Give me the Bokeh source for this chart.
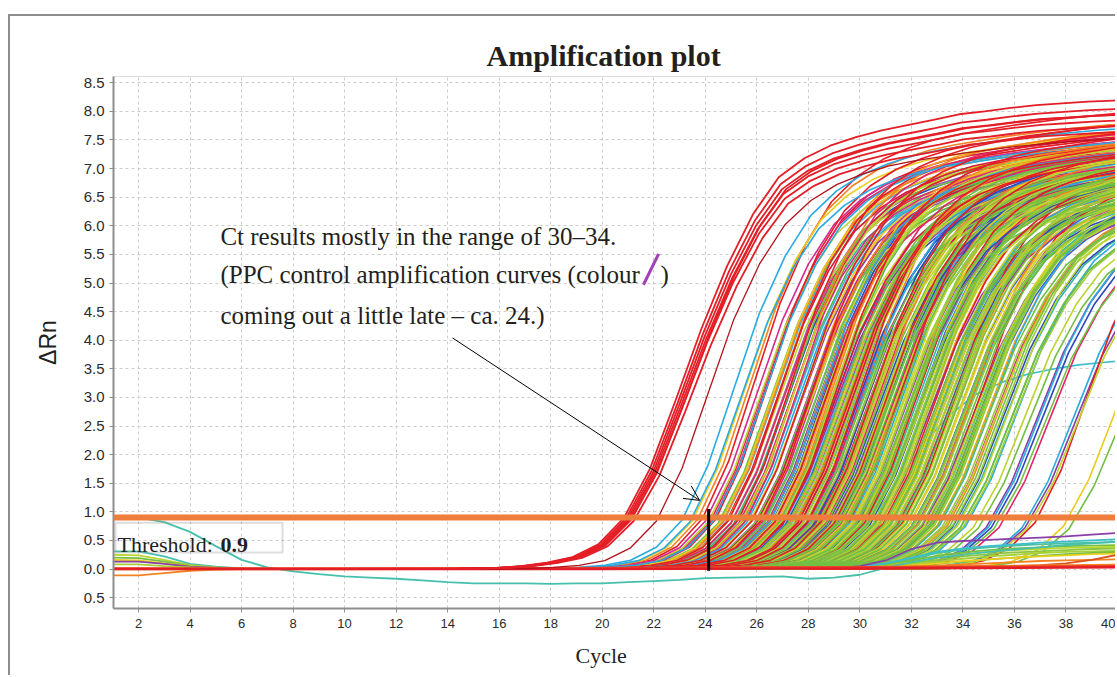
import numpy as np
from bokeh.plotting import figure
from bokeh.models import (Range1d, FixedTicker, Span, Label, BoxAnnotation, Arrow,
                          OpenHead, PrintfTickFormatter, Title)
from bokeh.embed import file_html
from bokeh.resources import INLINE

# ---------------- data ----------------
X_TICKS = [2, 4, 6, 8, 10, 12, 14, 16, 18, 20, 22, 24, 26, 28, 30, 32, 34, 36, 38, 40]
Y_TICKS = [-0.5, 0.0, 0.5, 1.0, 1.5, 2.0, 2.5, 3.0, 3.5, 4.0, 4.5, 5.0, 5.5, 6.0, 6.5, 7.0, 7.5, 8.0, 8.5]
Y_TICK_LABELS = ["0.5", "0.0", "0.5", "1.0", "1.5", "2.0", "2.5", "3.0", "3.5", "4.0", "4.5",
                 "5.0", "5.5", "6.0", "6.5", "7.0", "7.5", "8.0", "8.5"]

THRESHOLD = 0.9
CT_MARK = 24.13

# shape of the PPC control curve (cycles relative to threshold crossing)
PPC_PROFILE_DX = [-40, -7, -6, -5, -4, -3, -2, -1, 0, 1, 2, 3, 4, 5, 6, 7, 8, 9, 10, 11, 12,
                  13, 14, 15, 16, 17, 18, 19, 20]
PPC_PROFILE_Y = [0, 0, 0.01, 0.02, 0.05, 0.11, 0.21, 0.43, 0.9, 1.75, 2.95, 4.2, 5.3, 6.2, 6.85,
                 7.18, 7.4, 7.55, 7.67, 7.76, 7.85, 7.95, 8.0, 8.06, 8.11, 8.14, 8.17, 8.19, 8.2]
# shape of a typical sample curve
MASS_PROFILE_DX = [-40, -6, -5, -4, -3, -2, -1, 0, 1, 2, 3, 4, 5, 6, 7, 8, 9, 10, 12, 14, 16, 18, 20]
MASS_PROFILE_Y = [0, 0, 0.01, 0.03, 0.07, 0.16, 0.4, 0.9, 1.9, 3.3, 4.7, 5.75, 6.5, 6.95, 7.25,
                  7.45, 7.6, 7.7, 7.85, 7.97, 8.06, 8.12, 8.16]
PROFILE_TOP = 8.2

# PPC controls (red)
CT_PPC = [20.85, 20.92, 20.98, 21.03, 21.08, 21.14, 21.22]
PLAT_PPC = [8.2, 8.05, 7.95, 7.85, 7.75, 7.95, 7.65]
CT_DARKRED = [22.1]
PLAT_DARKRED = [7.6]

# sample curves by colour
CT_RED = [23.9, 24.4, 24.9, 25.3, 25.8, 26.2, 26.7, 27.1, 27.6, 28.0, 28.5, 29.0, 29.6, 30.2, 30.9, 31.7, 32.6, 36.8]
PLAT_RED = [8.1, 7.9, 7.7, 7.95, 7.6, 7.85, 7.5, 7.8, 7.4, 7.7, 7.55, 7.3, 7.65, 7.45, 7.2, 7.5, 7.3, 7.4]
CT_CRIMSON = [24.3, 24.8, 25.4, 26.0, 26.5, 27.0, 27.7, 28.3, 29.1, 30.5]
PLAT_CRIMSON = [7.7, 7.45, 7.6, 7.3, 7.5, 7.2, 7.4, 7.1, 7.2, 7.0]
CT_PINK = [24.2, 25.0, 25.6, 26.4, 27.3, 27.9, 28.7, 29.3, 30.0, 30.6, 31.4, 35.4]
PLAT_PINK = [7.6, 7.3, 7.8, 7.1, 7.5, 6.9, 7.4, 7.2, 7.0, 7.35, 6.8, 6.6]
CT_ORANGE = [23.7, 24.7, 25.5, 26.1, 26.9, 27.5, 28.2, 28.8, 29.4, 30.1, 30.8, 31.5, 32.3, 33.4]
PLAT_ORANGE = [7.9, 7.6, 7.85, 7.4, 7.7, 7.3, 7.75, 7.5, 7.2, 7.6, 7.4, 7.1, 7.3, 6.9]
CT_GOLD = [24.9, 26.0, 26.8, 27.6, 28.6, 29.3, 30.0, 30.8, 31.8, 33.0]
PLAT_GOLD = [7.8, 7.5, 7.6, 7.3, 7.5, 7.2, 7.4, 7.1, 7.2, 6.9]
CT_YELLOW = [23.5, 24.6, 25.7, 26.5, 27.2, 27.8, 28.4, 29.1, 29.7, 30.4, 31.1, 31.9, 32.8, 37.9]
PLAT_YELLOW = [7.7, 7.5, 7.3, 7.6, 7.1, 7.45, 7.25, 7.55, 7.0, 7.3, 7.15, 6.9, 7.1, 6.8]
CT_OLIVE = [26.1, 26.8, 27.5, 28.0, 28.6, 29.2, 29.6, 30.1, 30.6, 31.2, 31.9, 32.7]
PLAT_OLIVE = [7.3, 7.1, 7.4, 7.0, 7.25, 7.1, 6.95, 7.2, 7.0, 6.9, 7.05, 6.8]
CT_YGREEN = [24.1, 24.8, 25.4, 26.0, 26.6, 27.0, 27.4, 27.9, 28.3, 28.6, 29.0, 29.3, 29.7, 30.0,
             30.3, 30.7, 31.0, 31.3, 31.7, 32.1, 32.5, 32.9, 33.3, 33.8, 34.4, 36.5]
PLAT_YGREEN = [7.4, 7.2, 7.55, 7.0, 7.35, 7.6, 7.15, 7.45, 6.9, 7.3, 7.5, 7.05, 7.4, 7.2, 6.85,
               7.3, 7.1, 6.9, 7.25, 7.0, 6.8, 7.1, 6.7, 6.9, 6.6, 6.5]
CT_LIME = [25.0, 25.8, 26.4, 26.9, 27.3, 27.8, 28.1, 28.5, 28.9, 29.1, 29.4, 29.8, 30.0, 30.2,
           30.5, 30.8, 31.1, 31.4, 31.8, 32.1, 32.3, 32.6, 32.9, 33.2, 33.6, 34.0]
PLAT_LIME = [7.3, 7.6, 7.1, 7.45, 7.2, 7.5, 6.95, 7.3, 7.1, 7.4, 7.0, 7.25, 7.45, 6.9, 7.15,
             7.35, 6.85, 7.1, 7.3, 6.9, 7.05, 6.8, 7.0, 6.75, 6.9, 6.6]
CT_GREEN = [24.5, 25.2, 25.9, 26.3, 26.8, 27.2, 27.6, 28.0, 28.4, 28.7, 29.0, 29.2, 29.5, 29.8,
            30.1, 30.3, 30.6, 30.9, 31.2, 31.5, 31.8, 32.0, 32.4, 32.7, 33.0, 33.5, 33.9, 34.6, 35.2, 38.1]
PLAT_GREEN = [7.3, 7.5, 7.1, 7.4, 6.95, 7.25, 7.5, 7.0, 7.35, 7.15, 6.9, 7.4, 7.2, 6.8, 7.3, 7.05,
              7.25, 6.9, 7.15, 6.95, 7.1, 6.75, 7.0, 6.85, 6.7, 6.9, 6.6, 6.5, 6.4, 6.3]
CT_SPRING = [25.5, 26.2, 27.0, 27.5, 28.2, 28.8, 29.3, 29.9, 30.4, 31.0, 31.6, 32.2, 32.8, 33.9]
PLAT_SPRING = [7.4, 7.1, 7.5, 7.2, 7.3, 7.0, 7.35, 7.1, 7.2, 6.9, 7.05, 6.8, 6.9, 6.6]
CT_TEAL = [25.1, 26.7, 27.7, 28.6, 29.4, 30.2, 30.9, 31.6, 32.6, 33.7]
PLAT_TEAL = [7.2, 7.5, 6.9, 7.3, 7.0, 7.2, 6.8, 7.0, 6.9, 6.7]
CT_CYAN = [23.1, 23.4, 24.3, 25.6, 26.5, 27.4, 28.1, 28.9, 29.6, 30.5, 31.2, 32.2, 33.1, 34.1, 35.0, 36.3]
PLAT_CYAN = [7.8, 7.5, 7.6, 7.3, 7.5, 7.2, 7.4, 7.1, 7.3, 7.0, 7.2, 6.9, 7.0, 6.8, 6.7, 6.6]
CT_SKY = [24.7, 25.5, 26.3, 27.1, 27.9, 29.0, 30.0, 31.3]
PLAT_SKY = [7.5, 7.3, 7.4, 7.1, 7.2, 7.0, 7.1, 6.8]
CT_ROYAL = [26.0, 26.9, 27.8, 28.4, 29.0, 29.7, 30.3, 31.1, 31.9, 32.8]
PLAT_ROYAL = [7.3, 7.0, 7.4, 7.1, 7.25, 6.95, 7.2, 6.9, 7.0, 6.8]
CT_BLUE = [25.2, 25.9, 26.6, 27.1, 27.5, 27.9, 28.3, 28.7, 29.1, 29.5, 29.9, 30.4, 30.9, 31.5, 32.0, 32.7, 33.6, 35.1]
PLAT_BLUE = [7.4, 7.1, 7.5, 6.9, 7.3, 7.2, 7.45, 6.95, 7.2, 7.35, 7.0, 7.15, 6.9, 7.05, 6.8, 6.9, 6.7, 6.6]
CT_VIOLET = [25.0, 25.9, 26.7, 27.4, 28.0, 28.9, 29.8, 31.2]
PLAT_VIOLET = [7.4, 7.2, 7.5, 7.1, 7.3, 7.0, 7.1, 6.9]
CT_PURPLE = [24.6, 25.7, 26.4, 27.0, 27.7, 28.2, 28.8, 29.4, 30.0, 30.7, 31.6, 32.4, 34.9, 36.4]
PLAT_PURPLE = [7.5, 7.2, 7.4, 7.0, 7.3, 7.1, 6.9, 7.2, 7.0, 6.8, 7.0, 6.7, 6.6, 6.5]
CT_MAGENTA = [24.0, 25.3, 26.2, 27.3, 28.5, 29.2, 30.1, 31.0, 32.2, 33.3]
PLAT_MAGENTA = [7.6, 7.3, 7.5, 7.1, 7.3, 7.0, 7.2, 6.9, 7.0, 6.8]
CT_LOWPLAT = [29.5]
PLAT_LOWPLAT = [3.85]

# teal curve dipping below zero (cycles 1..40)
TEAL_DIP_CYCLES = list(range(1, 41))
TEAL_DIP_Y = [0.9, 0.9, 0.82, 0.65, 0.4, 0.16, 0.03, -0.04, -0.09, -0.13, -0.15, -0.17, -0.2,
              -0.23, -0.25, -0.25, -0.25, -0.26, -0.25, -0.25, -0.23, -0.21, -0.19, -0.16, -0.15,
              -0.14, -0.13, -0.17, -0.15, -0.1, 0.02, 0.12, 0.2, 0.25, 0.3, 0.34, 0.38, 0.42, 0.45, 0.48]

# early-cycle baseline offsets
EARLY_CYCLES = [1, 2, 3, 4, 5, 6, 7]
EARLY_TEAL = [0.31, 0.31, 0.22, 0.09, 0.04, 0.01, 0.0]
EARLY_YGREEN = [0.25, 0.24, 0.16, 0.07, 0.03, 0.01, 0.0]
EARLY_GREEN = [0.2, 0.19, 0.13, 0.06, 0.02, 0.0, 0.0]
EARLY_YELLOW = [0.16, 0.15, 0.1, 0.05, 0.02, 0.0, 0.0]
EARLY_PURPLE = [0.13, 0.13, 0.09, 0.04, 0.02, 0.0, 0.0]
EARLY_LIME = [0.08, 0.08, 0.05, 0.03, 0.01, 0.0, 0.0]
EARLY_ORANGE = [-0.11, -0.11, -0.07, -0.03, -0.01, 0.0, 0.0]

# non-amplifying wells drifting up late
LOW_CYCLES = [28, 29, 30, 31, 32, 33, 34, 35, 36, 37, 38, 39, 40]
LOW_CYANGREEN = [0, 0.01, 0.03, 0.08, 0.18, 0.28, 0.34, 0.38, 0.41, 0.43, 0.45, 0.46, 0.47]
LOW_GREEN1 = [0, 0.01, 0.03, 0.07, 0.15, 0.23, 0.29, 0.33, 0.36, 0.38, 0.4, 0.41, 0.42]
LOW_YGREEN = [0, 0.01, 0.02, 0.05, 0.12, 0.2, 0.26, 0.3, 0.33, 0.35, 0.37, 0.38, 0.39]
LOW_GREEN2 = [0, 0.0, 0.02, 0.05, 0.1, 0.16, 0.22, 0.26, 0.29, 0.31, 0.33, 0.35, 0.36]
LOW_LIME = [0, 0, 0.01, 0.04, 0.08, 0.13, 0.18, 0.22, 0.25, 0.28, 0.3, 0.31, 0.32]
LOW_GREEN3 = [0, 0, 0.01, 0.02, 0.05, 0.09, 0.13, 0.17, 0.2, 0.23, 0.26, 0.28, 0.3]
LOW_YELLOW = [0, 0, 0.01, 0.03, 0.06, 0.1, 0.14, 0.17, 0.2, 0.22, 0.24, 0.26, 0.27]
LOW_ORANGE = [0, 0, 0, 0.02, 0.04, 0.06, 0.08, 0.1, 0.12, 0.14, 0.15, 0.16, 0.17]
LOW_CYAN = [0, 0.01, 0.04, 0.1, 0.2, 0.3, 0.36, 0.4, 0.43, 0.46, 0.48, 0.5, 0.52]
LOW_PURPLE = [0, 0.01, 0.05, 0.15, 0.35, 0.46, 0.49, 0.51, 0.53, 0.55, 0.57, 0.6, 0.63]
LOW_LATERED = [0, 0, 0, 0, 0.01, 0.01, 0.02, 0.03, 0.05, 0.07, 0.1, 0.16, 0.25]

# no-template controls flat at zero
NTC_CYCLES = [1, 10, 20, 30, 40]
NTC_RED = [0.0, 0.0, 0.0, 0.01, 0.03]
NTC_ORANGE = [0.0, 0.0, 0.01, 0.03, 0.07]
NTC_RED2 = [0.01, 0.01, 0.02, 0.03, 0.05]

# ---------------- colours ----------------
C_RED = "#e41e26"
C_DARKRED = "#b3121c"
C_CRIMSON = "#d7193f"
C_PINK = "#e5256b"
C_ORANGE = "#f58220"
C_GOLD = "#f6a21c"
C_YELLOW = "#ebcd1c"
C_OLIVE = "#c8d42a"
C_YGREEN = "#bcd531"
C_LIME = "#9acb3c"
C_GREEN = "#72bf44"
C_SPRING = "#4fb848"
C_TEAL = "#33b89a"
C_CYAN = "#29abe2"
C_SKY = "#40b4e6"
C_ROYAL = "#3f66d8"
C_BLUE = "#2f48bd"
C_VIOLET = "#9b4fc0"
C_PURPLE = "#8a3fa8"
C_MAGENTA = "#d62a8e"
C_TEALDIP = "#45c0ad"

# ---------------- figure ----------------
p = figure(width=1107, height=661, output_backend="svg", toolbar_location=None,
           x_range=Range1d(1.03, 40.0), y_range=Range1d(-0.69, 8.61),
           min_border_left=103, min_border_top=60, min_border_bottom=2, min_border_right=0,
           background_fill_color="white", border_fill_color="white")
p.margin = (14, 0, 0, 8)
p.styles = {"border-left": "2px solid #8d8d8d", "border-top": "2px solid #8d8d8d"}
p.outline_line_color = "#dcdcdc"

p.title.text = "Amplification plot"
p.title.text_font = "Liberation Serif"
p.title.text_font_size = "30px"
p.title.text_font_style = "bold"
p.title.text_color = "#231f20"
p.title.align = "left"
p.title.offset = 373
p.title.standoff = 10

for ax in (p.xaxis[0], p.yaxis[0]):
    ax.axis_line_color = "#8d8d8d"
    ax.axis_line_width = 2
    ax.major_tick_line_color = "#8d8d8d"
    ax.major_tick_out = 4
    ax.major_tick_in = 0
    ax.minor_tick_line_color = None
    ax.major_label_text_font = "Liberation Sans"
    ax.major_label_text_color = "#2b2b2b"

p.xaxis.ticker = FixedTicker(ticks=X_TICKS)
p.xaxis.major_label_text_font_size = "13px"
p.xaxis.major_label_standoff = 6

# x-axis title as a side title so it can sit left of the frame centre, as in the original
p.add_layout(Title(text="Cycle", text_font="Liberation Serif", text_font_size="22px",
                   text_font_style="normal", text_color="#231f20", align="left",
                   offset=462, standoff=20), "below")

p.yaxis.ticker = FixedTicker(ticks=Y_TICKS)
p.yaxis.formatter = PrintfTickFormatter(format="%.1f")
p.yaxis.major_label_overrides = dict(zip(Y_TICKS, Y_TICK_LABELS))
p.yaxis.major_label_text_font_size = "15px"
p.yaxis.major_label_standoff = 5
p.yaxis.axis_label = "ΔRn"
p.yaxis.axis_label_text_font = "Liberation Sans"
p.yaxis.axis_label_text_font_size = "23px"
p.yaxis.axis_label_text_font_style = "normal"
p.yaxis.axis_label_text_color = "#231f20"
p.yaxis.axis_label_standoff = 20

p.xgrid.ticker = FixedTicker(ticks=X_TICKS)
p.ygrid.ticker = FixedTicker(ticks=Y_TICKS)
for g in (p.xgrid[0], p.ygrid[0]):
    g.grid_line_color = "#cccccc"
    g.grid_line_dash = "3 3"
    g.grid_line_width = 1

# ---------------- curves ----------------
def shaped(ct, plat, pdx, py):
    xs = np.asarray(pdx, dtype=float) + ct
    ys = np.asarray(py, dtype=float) * (plat / PROFILE_TOP)
    return xs, ys

groups = [
    (CT_RED, PLAT_RED, C_RED), (CT_CRIMSON, PLAT_CRIMSON, C_CRIMSON),
    (CT_PINK, PLAT_PINK, C_PINK), (CT_ORANGE, PLAT_ORANGE, C_ORANGE),
    (CT_GOLD, PLAT_GOLD, C_GOLD), (CT_YELLOW, PLAT_YELLOW, C_YELLOW),
    (CT_YGREEN, PLAT_YGREEN, C_YGREEN), (CT_TEAL, PLAT_TEAL, C_TEAL),
    (CT_CYAN, PLAT_CYAN, C_CYAN), (CT_SKY, PLAT_SKY, C_SKY),
    (CT_ROYAL, PLAT_ROYAL, C_ROYAL), (CT_BLUE, PLAT_BLUE, C_BLUE),
    (CT_VIOLET, PLAT_VIOLET, C_VIOLET), (CT_PURPLE, PLAT_PURPLE, C_PURPLE),
    (CT_MAGENTA, PLAT_MAGENTA, C_MAGENTA), (CT_OLIVE, PLAT_OLIVE, C_OLIVE),
    (CT_LIME, PLAT_LIME, C_LIME), (CT_SPRING, PLAT_SPRING, C_SPRING),
    (CT_GREEN, PLAT_GREEN, C_GREEN), (CT_LOWPLAT, PLAT_LOWPLAT, "#3dbdc9"),
]
mxs, mys, mcols = [], [], []
maxlen = max(len(g[0]) for g in groups)
for i in range(maxlen):
    for cts, plats, col in groups:
        if i < len(cts):
            x, y = shaped(cts[i], plats[i], MASS_PROFILE_DX, MASS_PROFILE_Y)
            mxs.append(x); mys.append(y); mcols.append(col)
p.multi_line(xs=mxs, ys=mys, line_color=mcols, line_width=1.6)

# low drifting wells
low_sets = [(LOW_CYANGREEN, "#4cc0a0"), (LOW_GREEN1, C_GREEN), (LOW_YGREEN, C_YGREEN),
            (LOW_GREEN2, "#8cc63f"), (LOW_LIME, "#a6cf38"), (LOW_GREEN3, C_GREEN),
            (LOW_YELLOW, C_YELLOW), (LOW_ORANGE, C_ORANGE), (LOW_CYAN, "#3cbfc9"),
            (LOW_PURPLE, C_PURPLE), (LOW_LATERED, "#d9531e")]
p.multi_line(xs=[LOW_CYCLES] * len(low_sets), ys=[s[0] for s in low_sets],
             line_color=[s[1] for s in low_sets], line_width=1.8)

# early baseline offsets
early_sets = [(EARLY_TEAL, C_TEALDIP), (EARLY_YGREEN, C_YGREEN), (EARLY_GREEN, C_GREEN),
              (EARLY_YELLOW, C_YELLOW), (EARLY_PURPLE, C_PURPLE), (EARLY_LIME, "#a6cf38"),
              (EARLY_ORANGE, C_ORANGE)]
p.multi_line(xs=[EARLY_CYCLES] * len(early_sets), ys=[s[0] for s in early_sets],
             line_color=[s[1] for s in early_sets], line_width=1.8)

# teal dipping curve
p.line(TEAL_DIP_CYCLES, TEAL_DIP_Y, line_color=C_TEALDIP, line_width=1.8)

# NTC flat lines
p.multi_line(xs=[NTC_CYCLES] * 3, ys=[NTC_ORANGE, NTC_RED2, NTC_RED],
             line_color=[C_ORANGE, "#e8412a", C_RED], line_width=2.4)

# dark red early curve + PPC controls
x, y = shaped(CT_DARKRED[0], PLAT_DARKRED[0], MASS_PROFILE_DX, MASS_PROFILE_Y)
p.line(x, y, line_color=C_DARKRED, line_width=1.3)
pxs, pys = [], []
for ct, pl in zip(CT_PPC, PLAT_PPC):
    x, y = shaped(ct, pl, PPC_PROFILE_DX, PPC_PROFILE_Y)
    pxs.append(x); pys.append(y)
p.multi_line(xs=pxs, ys=pys, line_color=C_RED, line_width=1.8)

# ---------------- annotations ----------------
p.add_layout(Span(location=THRESHOLD, dimension="width", line_color="#ef7d3c", line_width=6))
p.segment(x0=[CT_MARK], y0=[-0.03], x1=[CT_MARK], y1=[1.05], line_color="black",
          line_width=3, level="overlay")

p.add_layout(BoxAnnotation(left=1.11, right=7.59, bottom=0.288, top=0.81, fill_alpha=0,
                           line_color="#8d8d8d", line_width=2))
p.add_layout(Label(x=1.185, y=0.428, text="Threshold: ", text_font="Liberation Serif",
                   text_font_size="22px", text_color="#231f20", text_baseline="alphabetic"))
p.add_layout(Label(x=5.18, y=0.428, text="0.9", text_font="Liberation Serif",
                   text_font_size="22px", text_font_style="bold", text_color="#231f20",
                   text_baseline="alphabetic"))

NOTE_LINES = ["Ct results mostly in the range of 30\u201334.",
              "(PPC control amplification curves (colour",
              "coming out a little late \u2013 ca. 24.)"]
NOTE_Y = [5.82, 5.14, 4.44]
for t, yy in zip(NOTE_LINES, NOTE_Y):
    p.add_layout(Label(x=5.18, y=yy, text=t, text_font="Liberation Serif", text_font_size="25px",
                       text_color="#231f20", text_baseline="alphabetic"))
p.add_layout(Arrow(end=None, x_start=21.60, y_start=4.97, x_end=22.19, y_end=5.51,
                   line_color="#a240b5", line_width=3))
p.add_layout(Label(x=22.26, y=5.14, text=")", text_font="Liberation Serif", text_font_size="25px",
                   text_color="#231f20", text_baseline="alphabetic"))
p.add_layout(Arrow(end=OpenHead(size=15, line_width=1, line_color="black"),
                   x_start=14.19, y_start=4.04, x_end=23.78, y_end=1.20,
                   line_color="black", line_width=1))

open("out.html", "w").write(file_html(p, INLINE))
